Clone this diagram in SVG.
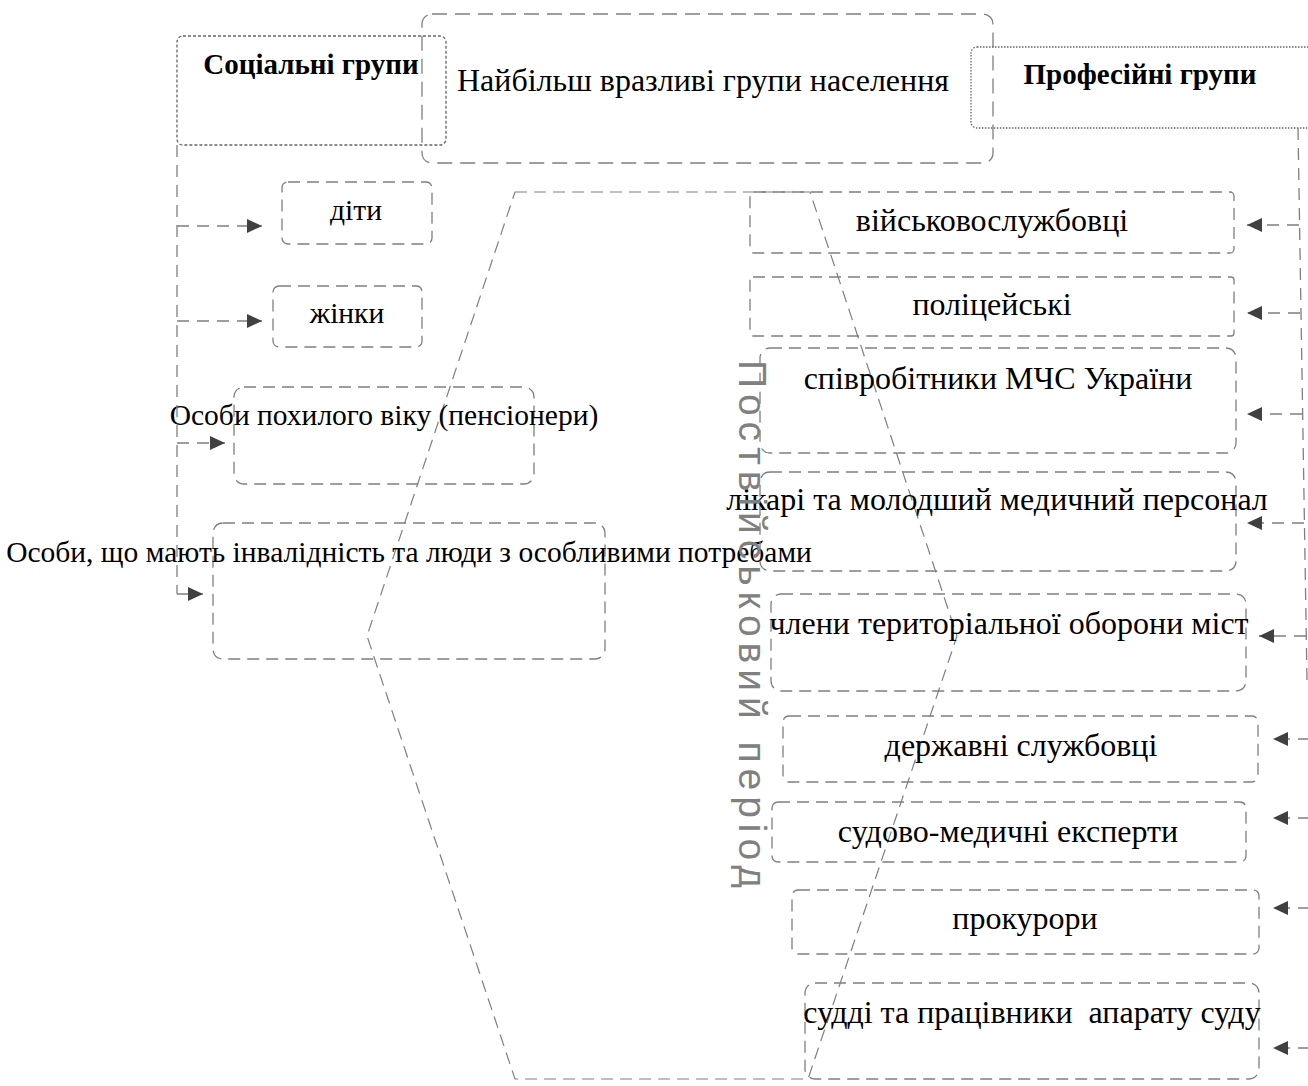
<svg xmlns="http://www.w3.org/2000/svg" width="1308" height="1086" viewBox="0 0 1308 1086">
<style>
  .box{fill:none;stroke:#7f7f7f;stroke-width:1.3;stroke-dasharray:12,7}
  .big{fill:none;stroke:#7f7f7f;stroke-width:1.3;stroke-dasharray:15,8}
  .soc{fill:none;stroke:#666;stroke-width:1.3;stroke-dasharray:3,2}
  .prof{fill:none;stroke:#666;stroke-width:1.3;stroke-dasharray:1.5,1.5}
  .hex{fill:none;stroke:#7f7f7f;stroke-width:1.2;stroke-dasharray:12,7}
  .con{fill:none;stroke:#7f7f7f;stroke-width:1.3;stroke-dasharray:12,8}
  .t{font-family:"Liberation Serif","Times New Roman",serif;font-size:32px;fill:#000;text-anchor:middle}
  .l{font-family:"Liberation Serif","Times New Roman",serif;font-size:29.5px;fill:#000;text-anchor:middle}
  .b{font-family:"Liberation Serif","Times New Roman",serif;font-size:29px;font-weight:bold;fill:#000;text-anchor:middle}
  .v{font-family:"Liberation Sans",Arial,sans-serif;font-size:39px;fill:#808080;text-anchor:middle}
</style>
<defs>
  <marker id="ah" markerUnits="userSpaceOnUse" markerWidth="16" markerHeight="16" viewBox="0 0 16 16" refX="15" refY="8" orient="auto">
    <path d="M0,1 L15,8 L0,15 Z" fill="#404040"/>
  </marker>
</defs>

<g id="hexagon">
  <polygon class="hex" points="515,192 810,192 957,636 808,1079 515,1079 367,636"/>
</g>

<g id="node-main">
  <rect class="big" x="422" y="14" width="571" height="149" rx="10"/>
  <text class="t" x="703" y="91">Найбільш вразливі групи населення</text>
</g>
<g id="node-social">
  <rect class="soc" x="177" y="36" width="269" height="109" rx="6"/>
  <text class="b" x="311" y="74">Соціальні групи</text>
</g>
<g id="node-prof">
  <rect class="prof" x="971" y="47" width="345" height="81" rx="6"/>
  <text class="b" x="1140" y="84">Професійні групи</text>
</g>

<g id="node-children">
  <rect class="box" x="282" y="182" width="150" height="62" rx="6"/>
  <text class="l" x="356" y="220">діти</text>
</g>
<g id="node-women">
  <rect class="box" x="273" y="286" width="149" height="61" rx="6"/>
  <text class="l" x="347" y="323">жінки</text>
</g>
<g id="node-elderly">
  <rect class="box" x="234" y="387" width="300" height="97" rx="10"/>
  <text class="l" x="384" y="425">Особи похилого віку (пенсіонери)</text>
</g>
<g id="node-disabled">
  <rect class="box" x="213" y="523" width="392" height="136" rx="10"/>
  <text class="l" x="409" y="562">Особи, що мають інвалідність та люди з особливими потребами</text>
</g>

<g id="node-military">
  <rect class="box" x="750" y="192" width="484" height="61" rx="4"/>
  <text class="t" x="992" y="231">військовослужбовці</text>
</g>
<g id="node-police">
  <rect class="box" x="750" y="277" width="484" height="59" rx="3"/>
  <text class="t" x="992" y="315">поліцейські</text>
</g>
<g id="node-dsns">
  <rect class="box" x="760" y="348" width="476" height="105" rx="10"/>
  <text class="t" x="998" y="389">співробітники МЧС України</text>
</g>
<g id="node-medics">
  <rect class="box" x="760" y="472" width="476" height="99" rx="10"/>
  <text class="t" x="997" y="510">лікарі та молодший медичний персонал</text>
</g>
<g id="node-terdef">
  <rect class="box" x="771" y="594" width="475" height="97" rx="10"/>
  <text class="t" x="1009" y="634">члени територіальної оборони міст</text>
</g>
<g id="node-civil">
  <rect class="box" x="783" y="716" width="475" height="66" rx="6"/>
  <text class="t" x="1021" y="756">державні службовці</text>
</g>
<g id="node-forensic">
  <rect class="box" x="772" y="802" width="474" height="60" rx="6"/>
  <text class="t" x="1008" y="842">судово-медичні експерти</text>
</g>
<g id="node-prosecutors">
  <rect class="box" x="792" y="890" width="467" height="64" rx="6"/>
  <text class="t" x="1025" y="929">прокурори</text>
</g>
<g id="node-judges">
  <rect class="box" x="805" y="983" width="454" height="96" rx="10"/>
  <text class="t" x="1032" y="1023" xml:space="preserve">судді та працівники  апарату суду</text>
</g>

<g id="label-period">
  <text class="v" transform="translate(739,624) rotate(90)" textLength="528" lengthAdjust="spacing">Поствійськовий період</text>
</g>

<g id="connectors">
  <line class="con" x1="177" y1="145" x2="177" y2="594"/>
  <line class="con" x1="177" y1="226" x2="262" y2="226" marker-end="url(#ah)"/>
  <line class="con" x1="177" y1="321" x2="262" y2="321" marker-end="url(#ah)"/>
  <line class="con" x1="177" y1="443" x2="225" y2="443" marker-end="url(#ah)"/>
  <line class="con" x1="177" y1="594" x2="203" y2="594" marker-end="url(#ah)"/>

  <line class="con" x1="1298" y1="128" x2="1307" y2="680"/>
  <line class="con" x1="1299" y1="225" x2="1247" y2="225" marker-end="url(#ah)"/>
  <line class="con" x1="1300" y1="313" x2="1247" y2="313" marker-end="url(#ah)"/>
  <line class="con" x1="1302" y1="414" x2="1247" y2="414" marker-end="url(#ah)"/>
  <line class="con" x1="1304" y1="523" x2="1247" y2="523" marker-end="url(#ah)"/>
  <line class="con" x1="1306" y1="636" x2="1259" y2="636" marker-end="url(#ah)"/>
  <line class="con" x1="1310" y1="739" x2="1273" y2="739" marker-end="url(#ah)"/>
  <line class="con" x1="1310" y1="818" x2="1273" y2="818" marker-end="url(#ah)"/>
  <line class="con" x1="1310" y1="908" x2="1273" y2="908" marker-end="url(#ah)"/>
  <line class="con" x1="1310" y1="1048" x2="1273" y2="1048" marker-end="url(#ah)"/>
</g>
</svg>
